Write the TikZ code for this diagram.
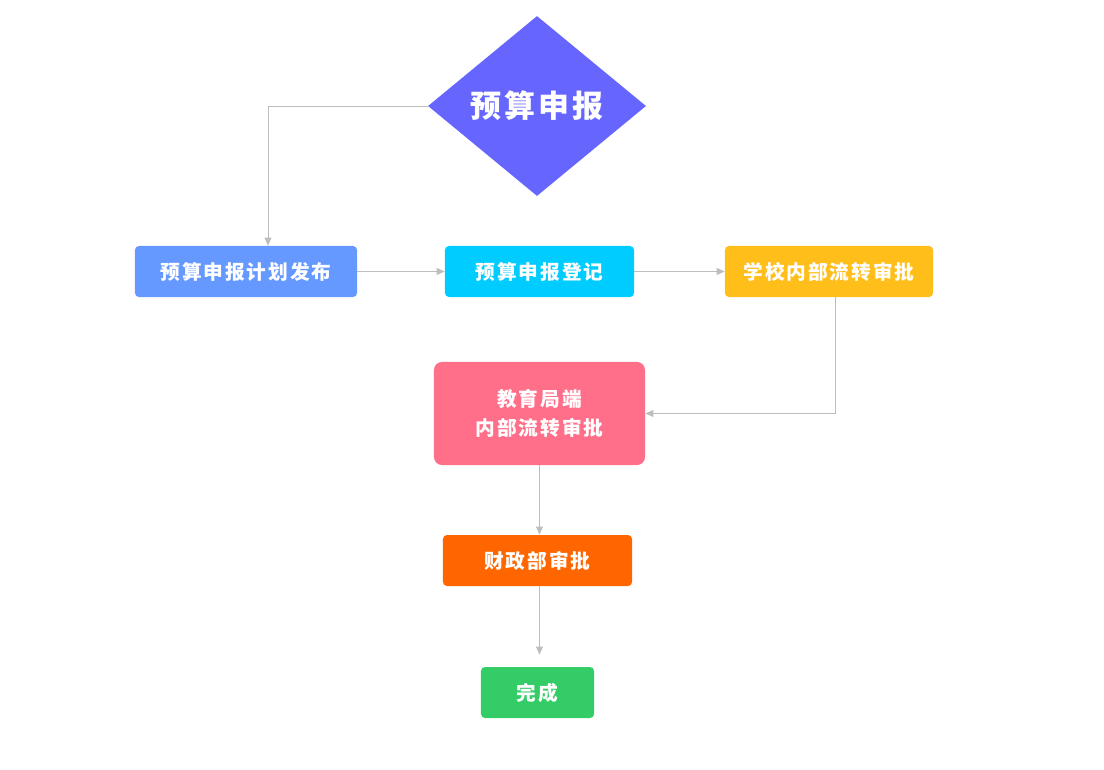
\documentclass[tikz,border=0pt]{standalone}
\usepackage{fontspec}
\newfontfamily\cjk[LetterSpace=10]{Noto Sans CJK SC}
\usepackage{tikz}
\usetikzlibrary{shapes.geometric, arrows.meta}
\definecolor{planblue}{HTML}{6666FF}
\definecolor{pubblue}{HTML}{6699FF}
\definecolor{regcyan}{HTML}{00CCFF}
\definecolor{schoolyellow}{HTML}{FFBE1A}
\definecolor{bureaupink}{HTML}{FF6F89}
\definecolor{financeorange}{HTML}{FF6600}
\definecolor{donegreen}{HTML}{33CC66}
\definecolor{linegray}{HTML}{BDBDBD}
\tikzstyle{decision} = [
    diamond,
    aspect=1.21,
    minimum width=5.45cm,
    minimum height=4.5cm,
    inner sep=0pt,
    fill=planblue,
    text=white,
    font=\cjk\bfseries\fontsize{22}{26}\selectfont
]
\tikzstyle{process} = [
    rectangle,
    rounded corners=0.1cm,
    minimum height=1.275cm,
    text=white,
    align=center,
    font=\cjk\bfseries\fontsize{14}{21}\selectfont
]
\tikzstyle{arrow} = [draw=linegray, line width=0.6pt, -{Triangle[length=2mm, width=1.7mm]}]

\begin{document}
\begin{tikzpicture}[x=0.025cm, y=-0.025cm]
\useasboundingbox (0,0) rectangle (1104,769);

\node (plan) [decision] at (537,106) {预算申报};

\node (publish) [process, fill=pubblue, minimum width=5.55cm] at (246,271.5)
{预算申报计划发布};

\node (register) [process, fill=regcyan, minimum width=4.725cm] at (539.5,271.5)
{预算申报登记};

\node (school) [process, fill=schoolyellow, minimum width=5.2cm] at (829,271.5)
{学校内部流转审批};

\node (bureau) [process, fill=bureaupink, rounded corners=0.2cm,
    minimum width=5.275cm, minimum height=2.575cm] at (539.5,413.5)
{教育局端\\内部流转审批};

\node (finance) [process, fill=financeorange, minimum width=4.725cm] at (537.5,560.5)
{财政部审批};

\node (done) [process, fill=donegreen, minimum width=2.825cm] at (537.5,692.5)
{完成};

\draw [arrow] (plan.west) -| ([xshift=0.55cm]publish.north);
\draw [arrow] (publish) -- (register);
\draw [arrow] (register) -- (school);
\draw [arrow] ([xshift=0.15cm]school.south) |- (bureau.east);
\draw [arrow] (bureau.south) -- (bureau.south |- finance.north);
\draw [arrow, shorten >=0.3cm] (bureau.south |- finance.south) -- (bureau.south |- done.north);

\end{tikzpicture}
\end{document}
